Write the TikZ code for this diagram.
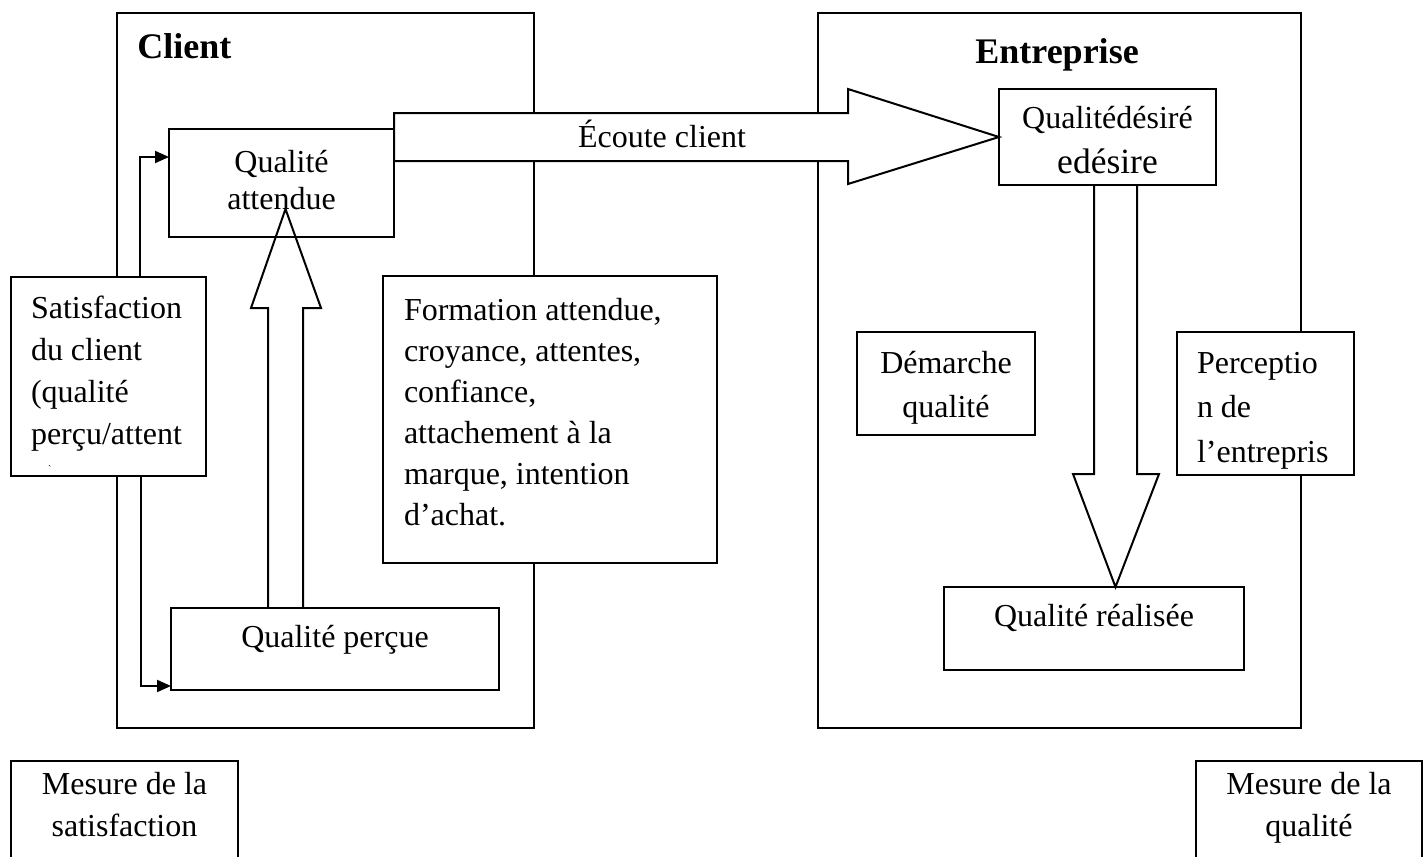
\documentclass[tikz,border=0pt]{standalone}
\usepackage{fontspec}
\setmainfont{Liberation Serif}
\usepackage{tikz}
\usetikzlibrary{arrows.meta,calc,positioning}

% top aligned text inside a box of fixed size
\newcommand{\boxtext}[6]{%
  \parbox[c][#2][t]{#1}{\fontsize{16}{#4}\selectfont\vspace*{#3}#5\rule{0pt}{11.5pt}#6\par}}

\tikzset{
  box/.style={draw, line width=1pt, fill=white, inner sep=0pt, outer sep=0pt, anchor=north west},
  title/.style={font=\fontsize{18}{22}\selectfont\bfseries, inner sep=0pt, anchor=base west},
  hollow/.style={line width=1pt, line join=miter},
  link/.style={line width=1pt, -{Triangle[length=7pt,width=6pt]}},
}

\begin{document}
\begin{tikzpicture}[x=0.5pt, y=-0.5pt, every node/.style={font=\fontsize{16}{21}\selectfont}]
  \useasboundingbox (0,0) rectangle (1426,857);
  \clip (0,0) rectangle (1426,857);

  % the two frames
  \node[box, minimum width=208.5pt, minimum height=357.5pt] (client) at (117,13) {};
  \node[box, minimum width=241.5pt, minimum height=357.5pt] (entr) at (818,13) {};
  \node[title] (clientlbl) at (137,58) {Client};
  \node[title] (entrlbl) at (975,63) {Entreprise};

  % boxes
  \node[box] (qa) at (169,129) {\boxtext{112.5pt}{54pt}{10pt}{18.5pt}{\centering}{Qualité\\attendue}};
  \node[box] (qp) at (171,608) {\boxtext{164pt}{41pt}{8pt}{21pt}{\centering}{Qualité perçue}};
  \node[box] (sat) at (11,277) {\boxtext{97.5pt}{99.5pt}{9pt}{21pt}{\raggedright\leftskip=10pt}{Satisfaction\\du client\\(qualité\\perçu/attent\\\hspace*{8.5pt}\raisebox{7pt}{\tiny\textasciigrave}}};
  \node[box] (form) at (383,276) {\boxtext{167pt}{143.5pt}{10.5pt}{20.5pt}{\raggedright\leftskip=10.5pt}{Formation attendue,\\croyance, attentes,\\confiance,\\attachement à la\\marque, intention\\d’achat.}};
  \node[box] (qd) at (999,89) {\boxtext{108.5pt}{48pt}{8pt}{22.5pt}{\centering}{Qualitédésiré\\{\fontsize{17.75}{22.5}\selectfont edésire}}};
  \node[box] (dq) at (857,332) {\boxtext{89pt}{51.5pt}{9pt}{22pt}{\centering}{Démarche\\qualité}};
  \node[box] (pe) at (1177,332) {\boxtext{88.5pt}{71.5pt}{9pt}{22.25pt}{\raggedright\leftskip=10pt}{Perceptio\\n de\\l’entrepris}};
  \node[box] (qr) at (944,587) {\boxtext{150pt}{41.5pt}{8pt}{21pt}{\centering}{Qualité réalisée}};
  \node[box] (ms) at (11,761) {\boxtext{113.5pt}{60pt}{5pt}{21pt}{\centering}{Mesure de la\\satisfaction}};
  \node[box] (mq) at (1196,761) {\boxtext{113pt}{60pt}{5pt}{21pt}{\centering}{Mesure de la\\qualité}};

  % big arrows
  \draw[hollow, fill=white] ($(qa.east |- qd.west)+(0,-24)$) -- ++(454,0) -- ++(0,-24) -- (qd.west)
    -- ++(-151,47) -- ++(0,-23) -- ($(qa.east |- qd.west)+(0,24)$) -- cycle;
  \node[anchor=base, inner sep=0pt] (ecoute) at (662,147) {Écoute client};

  \draw[hollow] ($(qd.south)+(-13.5,0)$) -- ++(0,289) -- ++(-21,0) -- ($(qd.south |- qr.north)+(8,0)$)
    -- ++(43.5,-113) -- ++(-22,0) -- ($(qd.south)+(29.5,0)$);

  \coordinate (uptip) at ($(qa.south)+(4,-28)$);
  \draw[hollow] ($(uptip |- qp.north)+(-17.5,0)$) -- ++(0,-300) -- ++(-17,0) -- (uptip)
    -- ++(35.5,99) -- ++(-18,0) -- ($(uptip |- qp.north)+(17.5,0)$);

  % links from the satisfaction box
  \draw[link] ([xshift=15.75pt]sat.north) |- ([yshift=13pt]qa.west);
  \draw[link] ([xshift=16.25pt]sat.south) |- ([yshift=-18.5pt]qp.west);
\end{tikzpicture}
\end{document}
